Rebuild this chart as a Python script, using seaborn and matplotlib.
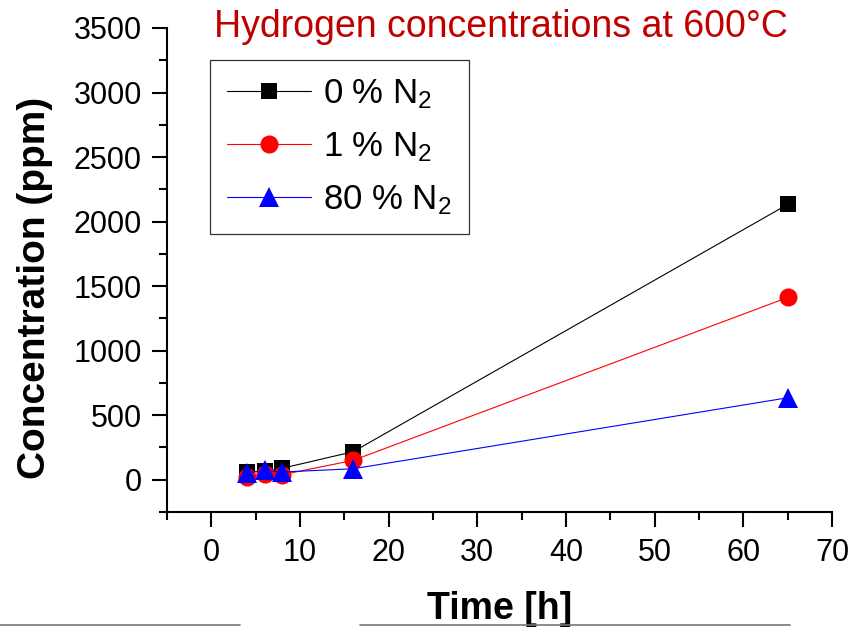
import numpy as np
import pandas as pd
import matplotlib
matplotlib.use("Agg")
import matplotlib.pyplot as plt
import seaborn as sns
from matplotlib.lines import Line2D
from matplotlib.ticker import MultipleLocator

# Data
time_h = [4, 6, 8, 16, 65]
conc_0_n2 = [58, 66, 89, 217, 2133]
conc_1_n2 = [25, 43, 39, 150, 1412]
conc_80_n2 = [54, 72, 60, 85, 635]
series_labels = ["0 % N$_2$", "1 % N$_2$", "80 % N$_2$"]
series_colors = ["#000000", "#FF0000", "#0000FF"]
series_markers = ["s", "o", "^"]
marker_sizes = [11, 13, 14]

x_ticks = [0, 10, 20, 30, 40, 50, 60, 70]
y_ticks = [0, 500, 1000, 1500, 2000, 2500, 3000, 3500]

sns.set_style("ticks", {"axes.edgecolor": "black", "text.color": "black",
                        "xtick.color": "black", "ytick.color": "black",
                        "axes.labelcolor": "black"})
plt.rcParams["font.family"] = ["Liberation Sans", "DejaVu Sans"]
plt.rcParams["mathtext.fontset"] = "custom"
plt.rcParams["mathtext.rm"] = "Liberation Sans"
plt.rcParams["mathtext.it"] = "Liberation Sans"

df = pd.DataFrame({
    "time": time_h * 3,
    "conc": conc_0_n2 + conc_1_n2 + conc_80_n2,
    "series": [series_labels[0]] * 5 + [series_labels[1]] * 5 + [series_labels[2]] * 5,
})

fig = plt.figure(figsize=(8.55, 6.29), dpi=100)
ax = fig.add_axes([0.1953, 0.186, 0.7778, 0.7695])

for lab, col, mk, ms in zip(series_labels, series_colors, series_markers, marker_sizes):
    sub = df[df["series"] == lab]
    sns.lineplot(data=sub, x="time", y="conc", ax=ax, color=col, linewidth=0.8,
                 marker=mk, markersize=ms, markeredgewidth=0, label=lab, legend=False)

ax.set_xlim(-5, 70)
ax.set_ylim(-250, 3500)
ax.set_xticks(x_ticks)
ax.set_yticks(y_ticks)
ax.xaxis.set_minor_locator(MultipleLocator(5))
ax.yaxis.set_minor_locator(MultipleLocator(250))

sns.despine(ax=ax)
for side in ["left", "bottom"]:
    ax.spines[side].set_linewidth(1.5)
ax.tick_params(axis="both", which="major", direction="out", length=11, width=1.5)
ax.tick_params(axis="both", which="minor", direction="out", length=5.5, width=1.5)
ax.tick_params(axis="y", which="major", labelsize=22, pad=7)
ax.tick_params(axis="x", which="major", labelsize=22, pad=8)

ax.set_xlabel("Time [h]", fontsize=27, fontweight="bold")
ax.set_ylabel("Concentration (ppm)", fontsize=28, fontweight="bold")
ax.xaxis.set_label_coords(0.5, -0.163)
ax.yaxis.set_label_coords(-0.172, 0.463)

fig.text(0.586, 0.941, "Hydrogen concentrations at 600°C", color="#C00000",
         fontsize=27, ha="center", va="baseline")

handles = [Line2D([], [], color=c, linewidth=0.8, marker=m, markersize=s, markeredgewidth=0)
           for c, m, s in zip(series_colors, series_markers, marker_sizes)]
leg = ax.legend(handles, series_labels, loc="upper left", bbox_to_anchor=(0.0647, 0.934),
                fontsize=25, frameon=True, fancybox=False, edgecolor="black",
                handlelength=2.4, handletextpad=0.35, labelspacing=0.55,
                borderaxespad=0, borderpad=0.5)
leg.get_frame().set_linewidth(0.9)

# thin grey lines along the bottom edge of the original picture
fig.add_artist(Line2D([0, 240 / 855], [0.006, 0.006], color="#777777", linewidth=1.2))
fig.add_artist(Line2D([360 / 855, 790 / 855], [0.006, 0.006], color="#777777", linewidth=1.2))

fig.savefig("out.png", dpi=100)
